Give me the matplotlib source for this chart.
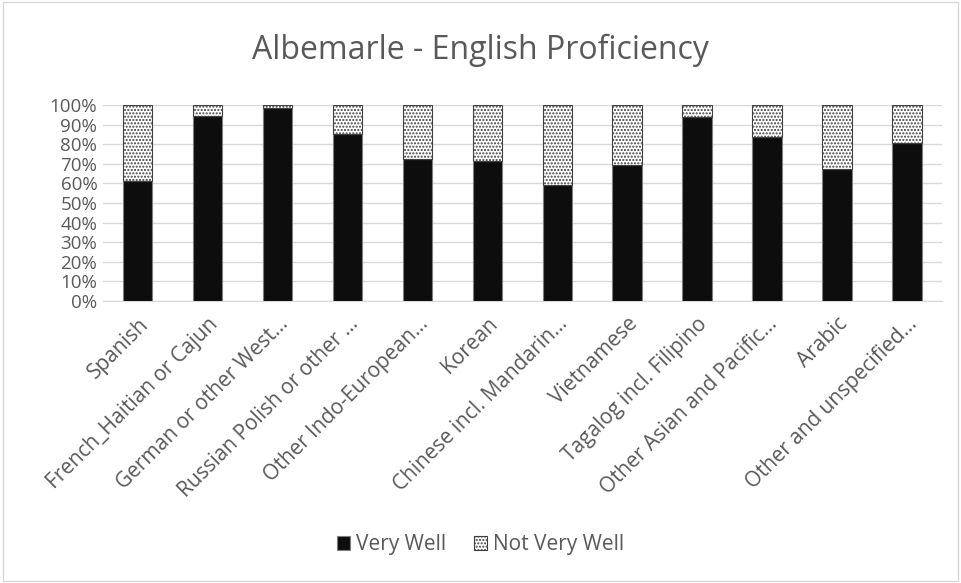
import matplotlib.pyplot as plt
import numpy as np
from matplotlib.patches import Rectangle

plt.rcParams['font.family'] = ['Open Sans', 'DejaVu Sans']

languages = ['Spanish', 'French_Haitian or Cajun', 'German or other West…',
             'Russian Polish or other …', 'Other Indo-European…', 'Korean',
             'Chinese incl. Mandarin…', 'Vietnamese', 'Tagalog incl. Filipino',
             'Other Asian and Pacific…', 'Arabic', 'Other and unspecified…']
very_well = [61.4, 94.4, 98.3, 85.0, 72.4, 71.4, 59.2, 69.5, 94.0, 83.8, 67.3, 80.8]
not_very_well = [100 - v for v in very_well]

text_col = '#595959'

fig = plt.figure(figsize=(9.61, 5.83), dpi=100)
ax = fig.add_axes([0.107, 0.4837, 0.873, 0.3363])

x = np.arange(len(languages))
ax.bar(x, very_well, width=0.42, color='#0d0d0d', edgecolor='#7f7f7f',
       linewidth=0.8, label='Very Well', zorder=3)
ax.bar(x, not_very_well, width=0.42, bottom=very_well, color='white',
       edgecolor='#404040', hatch='.....', linewidth=0.8,
       label='Not Very Well', zorder=3)

ax.set_xlim(-0.5, len(languages) - 0.5)
ax.set_ylim(0, 100)
ax.set_yticks(np.arange(0, 101, 10))
ax.set_yticklabels([f'{v}%' for v in range(0, 101, 10)])
ax.yaxis.grid(True, color='#d9d9d9', linewidth=1, zorder=0)
ax.set_axisbelow(True)
for s in ['top', 'right', 'left']:
    ax.spines[s].set_visible(False)
ax.spines['bottom'].set_color('#d9d9d9')
ax.tick_params(axis='y', length=0, colors=text_col, labelsize=13.5, pad=4)
ax.tick_params(axis='x', length=0, colors=text_col, labelsize=15, pad=9)
ax.set_xticks(x)
ax.set_xticklabels(languages, rotation=45, ha='right', rotation_mode='anchor')

fig.text(0.5, 0.913, 'Albemarle - English Proficiency', ha='center',
         va='center', fontsize=23, color=text_col)

fig.legend(loc='center', bbox_to_anchor=(0.5, 0.066), ncol=2, frameon=False,
           fontsize=15, labelcolor=text_col, handlelength=0.65,
           handleheight=0.65, handletextpad=0.3, columnspacing=1.3)

fig.patches.append(Rectangle((0.003, 0.004), 0.994, 0.992, transform=fig.transFigure,
                             fill=False, edgecolor='#d9d9d9', linewidth=1))

fig.savefig('out.png', dpi=100)
